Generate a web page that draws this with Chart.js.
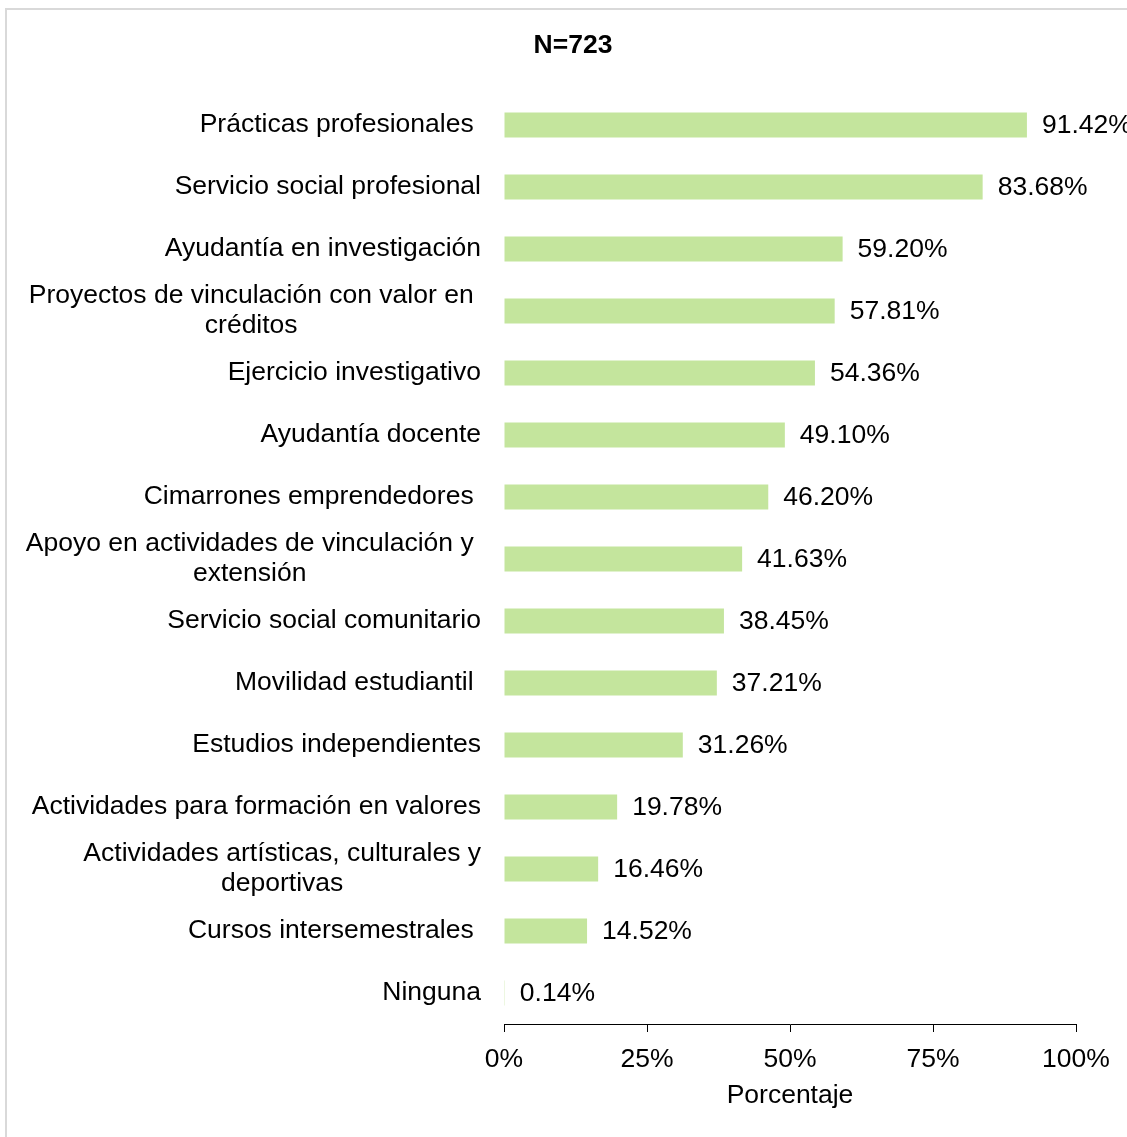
<!DOCTYPE html>
<html>
<head>
<meta charset="utf-8">
<script src="https://cdn.jsdelivr.net/npm/chart.js@4.4.1/dist/chart.umd.min.js"></script>
<style>
  body { margin: 0; background: #fff; overflow: hidden; }
  #frame { position: absolute; left: 5px; top: 8px; width: 1200px; height: 1200px; border: 2px solid #d9d9d9; }
  #chart { position: absolute; left: 0; top: 0; }
</style>
</head>
<body>
<div id="frame"></div>
<canvas id="chart" width="1127" height="1137"></canvas>
<script>
// Categorías (las que terminan en espacio quedan un poco más a la izquierda, como en el original)
const categories = [
    'Prácticas profesionales ',
    'Servicio social profesional',
    'Ayudantía en investigación',
    ['Proyectos de vinculación con valor en ', 'créditos'],
    'Ejercicio investigativo',
    'Ayudantía docente',
    'Cimarrones emprendedores ',
    ['Apoyo en actividades de vinculación y ', 'extensión'],
    'Servicio social comunitario',
    'Movilidad estudiantil ',
    'Estudios independientes',
    'Actividades para formación en valores',
    ['Actividades artísticas, culturales y', 'deportivas'],
    'Cursos intersemestrales ',
    'Ninguna'
];
const porcentajes = [91.42, 83.68, 59.20, 57.81, 54.36, 49.10, 46.20, 41.63, 38.45, 37.21, 31.26, 19.78, 16.46, 14.52, 0.14];
const xTicks = [0, 25, 50, 75, 100];

const FONT = '"Liberation Sans", Arial, sans-serif';
const SIZE = 26.5;

// Etiquetas de categoría: bloque alineado a la derecha, líneas centradas
const categoryLabels = {
    id: 'categoryLabels',
    afterDraw(chart) {
        const ctx = chart.ctx;
        const yScale = chart.scales.y;
        const right = chart.chartArea.left - 23;
        ctx.save();
        ctx.font = SIZE + 'px ' + FONT;
        ctx.fillStyle = '#000';
        ctx.textAlign = 'center';
        ctx.textBaseline = 'middle';
        const space = ctx.measureText(' ').width;
        categories.forEach((label, i) => {
            const lines = Array.isArray(label) ? label : [label];
            const hasSpace = lines.some(l => l.endsWith(' '));
            const w = Math.max(...lines.map(l => ctx.measureText(l.trimEnd()).width));
            const cx = right - (hasSpace ? space : 0) - w / 2;
            const cy = yScale.getPixelForValue(i);
            const lh = 30;
            lines.forEach((l, k) => {
                ctx.fillText(l.trimEnd(), cx, cy - (lines.length - 1) * lh / 2 + k * lh);
            });
        });
        ctx.restore();
    }
};

// Valores al final de cada barra
const valueLabels = {
    id: 'valueLabels',
    afterDatasetsDraw(chart) {
        const ctx = chart.ctx;
        const meta = chart.getDatasetMeta(0);
        ctx.save();
        ctx.font = SIZE + 'px ' + FONT;
        ctx.fillStyle = '#000';
        ctx.textAlign = 'left';
        ctx.textBaseline = 'middle';
        meta.data.forEach((bar, i) => {
            ctx.fillText(porcentajes[i].toFixed(2) + '%', bar.x + 15, bar.y + 1);
        });
        ctx.restore();
    }
};

new Chart(document.getElementById('chart'), {
    type: 'bar',
    data: {
        labels: categories,
        datasets: [{
            data: porcentajes,
            backgroundColor: '#c4e59d',
            borderWidth: 0,
            categoryPercentage: 1,
            barPercentage: 0.4
        }]
    },
    options: {
        indexAxis: 'y',
        responsive: false,
        animation: false,
        layout: { padding: { left: 70, right: 51, top: 0, bottom: 23 } },
        plugins: {
            legend: { display: false },
            tooltip: { enabled: false },
            title: {
                display: true,
                text: 'N=723',
                color: '#000',
                font: { family: FONT, size: SIZE, weight: 'bold', lineHeight: '30px' },
                padding: { top: 31, bottom: 33 }
            }
        },
        scales: {
            y: {
                ticks: { display: false },
                grid: { display: false },
                border: { display: false },
                afterFit(scale) { scale.width = 434; }
            },
            x: {
                min: 0,
                max: 100,
                afterBuildTicks(scale) { scale.ticks = xTicks.map(v => ({ value: v })); },
                ticks: {
                    callback: v => v + '%',
                    color: '#000',
                    font: { family: FONT, size: SIZE, lineHeight: '24px' },
                    padding: 16,
                    maxRotation: 0
                },
                grid: { drawOnChartArea: false, drawTicks: true, tickLength: 8, color: '#000', lineWidth: 1 },
                border: { display: true, color: '#000', width: 1 },
                title: {
                    display: true,
                    text: 'Porcentaje',
                    color: '#000',
                    font: { family: FONT, size: SIZE, lineHeight: '16px' },
                    padding: { top: 0, bottom: 10 }
                }
            }
        }
    },
    plugins: [categoryLabels, valueLabels]
});
</script>
</body>
</html>
